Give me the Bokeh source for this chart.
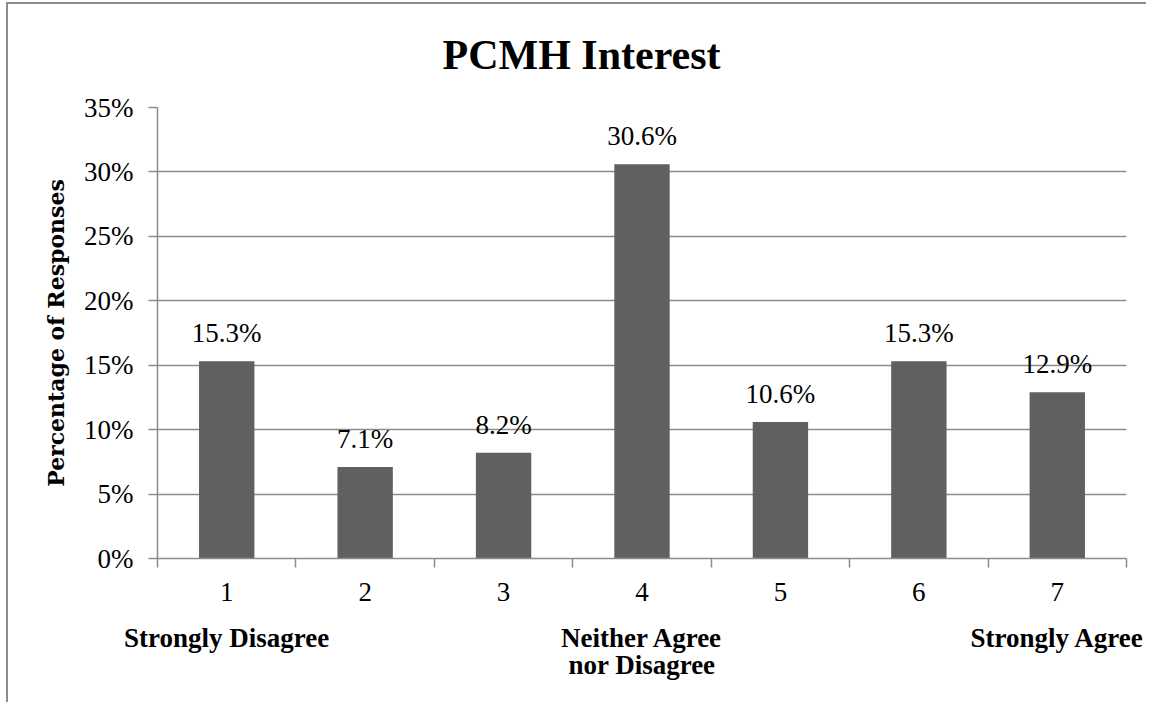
from bokeh.plotting import figure
from bokeh.models import (Range1d, LinearAxis, FixedTicker, SingleIntervalTicker,
                          PrintfTickFormatter, ColumnDataSource)
from bokeh.core.properties import value
from bokeh.embed import file_html
from bokeh.resources import INLINE

# ---- data ----
categories = ["1", "2", "3", "4", "5", "6", "7"]
percentages = [15.3, 7.1, 8.2, 30.6, 10.6, 15.3, 12.9]
anchor_labels = ["Strongly Disagree", "", "", "Neither Agree\nnor Disagree", "", "", "Strongly Agree"]
y_max = 35
y_step = 5

SERIF = "Liberation Serif"
GRAY = "#8c8c8c"
BAR = "#606060"

n = len(categories)
xs = [i + 0.5 for i in range(n)]
src = ColumnDataSource(dict(x=xs, top=percentages,
                            label=[f"{v:.1f}%" for v in percentages]))

p = figure(width=1140, height=700, output_backend="svg", toolbar_location=None,
           x_range=Range1d(0, n), y_range=Range1d(0, y_max),
           x_axis_location=None, y_axis_location="left",
           min_border_left=149, min_border_top=103, min_border_right=22,
           min_border_bottom=146)
p.styles = {"border-left": "2px solid #8c8c8c", "border-top": "2px solid #8c8c8c",
            "margin-left": "6px", "margin-top": "2px"}
p.outline_line_color = None
p.background_fill_color = "white"
p.border_fill_color = "white"

# title
p.title.text = "PCMH Interest"
p.title.text_font = SERIF
p.title.text_font_size = "42px"
p.title.text_font_style = "bold"
p.title.text_color = "black"
p.title.text_line_height = 1.0
p.title.align = "left"
p.title.vertical_align = "top"
p.title.offset = 285
p.title.standoff = 55

# bars
p.vbar(x="x", top="top", bottom=0, width=0.4, source=src,
       fill_color=BAR, line_color=None)
p.text(x="x", y="top", text="label", source=src,
       text_font=value(SERIF), text_font_size="27px", text_color="black",
       text_align="center", text_baseline="alphabetic", y_offset=-28)

# y axis
ya = p.yaxis[0]
ya.ticker = SingleIntervalTicker(interval=y_step)
ya.formatter = PrintfTickFormatter(format="%d%%")
ya.axis_line_color = GRAY
ya.axis_line_width = 1.5
ya.major_tick_line_color = GRAY
ya.major_tick_line_width = 1.5
ya.major_tick_out = 9
ya.major_tick_in = 0
ya.minor_tick_line_color = None
ya.major_label_text_font = SERIF
ya.major_label_text_font_size = "27px"
ya.major_label_text_color = "black"
ya.major_label_standoff = 15
ya.axis_label = "Percentage of Responses"
ya.axis_label_text_font = "DejaVu Serif"
ya.axis_label_text_font_style = "bold"
ya.axis_label_text_font_size = "22px"
ya.axis_label_text_color = "black"
ya.axis_label_standoff = 12

p.ygrid.grid_line_color = GRAY
p.ygrid.grid_line_width = 1.5
p.xgrid.visible = False

# x axis: category numbers with boundary ticks
xa = LinearAxis(ticker=FixedTicker(ticks=xs, minor_ticks=list(range(n + 1))),
                major_label_overrides={x: c for x, c in zip(xs, categories)})
xa.axis_line_color = GRAY
xa.axis_line_width = 1.5
xa.major_tick_out = 0
xa.major_tick_in = 0
xa.minor_tick_out = 9
xa.minor_tick_in = 0
xa.minor_tick_line_color = GRAY
xa.minor_tick_line_width = 1.5
xa.major_label_text_font = SERIF
xa.major_label_text_font_size = "27px"
xa.major_label_text_color = "black"
xa.major_label_standoff = 15
p.add_layout(xa, "below")

# x axis: scale anchors
xa2 = LinearAxis(ticker=FixedTicker(ticks=xs),
                 major_label_overrides={x: c for x, c in zip(xs, anchor_labels)})
xa2.axis_line_color = None
xa2.major_tick_line_color = None
xa2.minor_tick_line_color = None
xa2.major_label_text_font = SERIF
xa2.major_label_text_font_style = "bold"
xa2.major_label_text_font_size = "27px"
xa2.major_label_text_color = "black"
xa2.major_label_text_line_height = 0.9
xa2.major_label_standoff = 13
p.add_layout(xa2, "below")

open("out.html", "w").write(file_html(p, INLINE))
